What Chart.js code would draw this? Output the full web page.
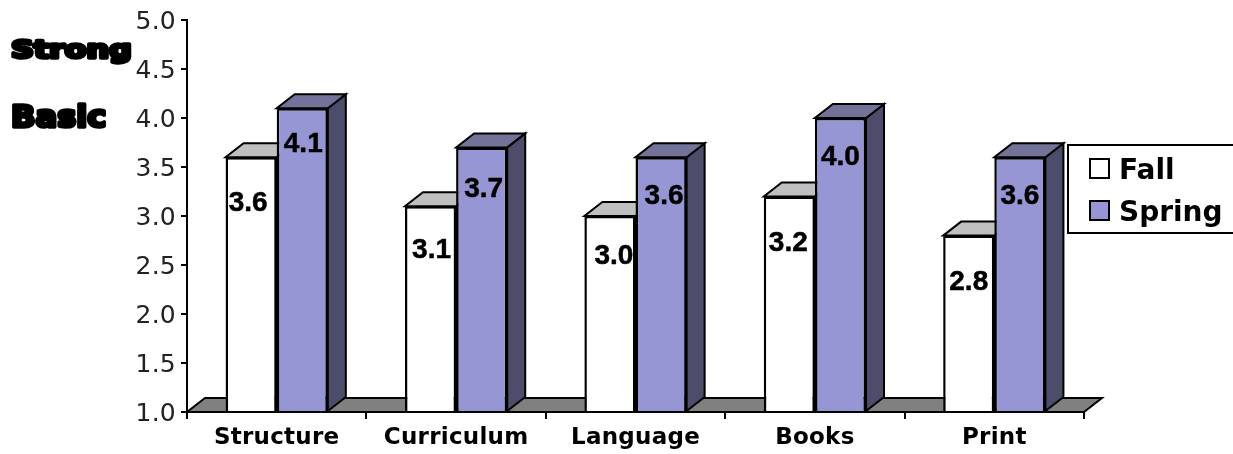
<!DOCTYPE html>
<html>
<head>
<meta charset="utf-8">
<title>Fall and Spring ratings</title>
<script src="https://cdn.jsdelivr.net/npm/chart.js@4"></script>
<style>
  html, body { margin: 0; padding: 0; background: #fff; overflow: hidden; }
  canvas { display: block; }
</style>
</head>
<body>
<canvas id="ratingChart" width="1233" height="454"></canvas>
<script>
// Chart data
const categories = ['Structure', 'Curriculum', 'Language', 'Books', 'Print'];
const fallValues = [3.6, 3.1, 3.0, 3.2, 2.8];
const springValues = [4.1, 3.7, 3.6, 4.0, 3.6];
const levelLabels = ['Strong', 'Basic'];

// Where each value label sits relative to the top centre of its bar [dx, dy]
const fallLabelNudge = [[-3, 46], [1, 44], [4, 40], [-1, 47], [0, 47]];
const springLabelNudge = [[1, 36], [2, 42], [3, 39], [0, 39], [0, 39]];

const DEPTH_X = 18;
const DEPTH_Y = 14;

function poly(ctx, points, fill) {
  ctx.beginPath();
  points.forEach((p, i) => (i ? ctx.lineTo(p[0], p[1]) : ctx.moveTo(p[0], p[1])));
  ctx.closePath();
  ctx.fillStyle = fill;
  ctx.fill();
  ctx.stroke();
}

// Squeezed heavy text for the labels left of the axis
function heavyText(ctx, text, size, stretch, x, y) {
  ctx.save();
  ctx.translate(x, y);
  ctx.scale(stretch, 1);
  ctx.font = `bold ${size}px "DejaVu Sans", sans-serif`;
  ctx.lineWidth = 3.5;
  ctx.lineJoin = 'round';
  ctx.strokeText(text, 0, 0);
  ctx.fillText(text, 0, 0);
  ctx.restore();
}

// 3D look: floor plus the top and side faces of every bar
const depthPlugin = {
  id: 'depth',
  beforeDraw(chart) {
    chart.ctx.letterSpacing = '0.25px';
  },
  beforeDatasetsDraw(chart) {
    const { ctx, chartArea: a } = chart;
    ctx.save();
    ctx.letterSpacing = '0px';
    ctx.strokeStyle = '#000';
    ctx.lineWidth = 2;
    ctx.lineJoin = 'miter';
    poly(ctx, [
      [a.left, a.bottom], [a.right, a.bottom],
      [a.right + DEPTH_X, a.bottom - DEPTH_Y], [a.left + DEPTH_X, a.bottom - DEPTH_Y]
    ], '#808080');
    chart.data.datasets.forEach((ds, d) => {
      chart.getDatasetMeta(d).data.forEach(bar => {
        const l = bar.x - bar.width / 2;
        const r = bar.x + bar.width / 2;
        poly(ctx, [[r, bar.y], [r + DEPTH_X, bar.y - DEPTH_Y], [r + DEPTH_X, bar.base - DEPTH_Y], [r, bar.base]], ds.sideColor);
        poly(ctx, [[l, bar.y], [r, bar.y], [r + DEPTH_X, bar.y - DEPTH_Y], [l + DEPTH_X, bar.y - DEPTH_Y]], ds.topColor);
      });
    });
    ctx.restore();
  },
  afterDatasetsDraw(chart) {
    const { ctx } = chart;
    ctx.save();
    ctx.letterSpacing = '0px';
    ctx.font = 'bold 28px "Liberation Sans", Arial, sans-serif';
    ctx.fillStyle = '#000';
    ctx.strokeStyle = '#000';
    ctx.lineWidth = 0.5;
    ctx.textAlign = 'center';
    ctx.textBaseline = 'middle';
    chart.data.datasets.forEach((ds, d) => {
      chart.getDatasetMeta(d).data.forEach((bar, i) => {
        const [dx, dy] = ds.labelNudge[i];
        const text = ds.data[i].toFixed(1);
        ctx.strokeText(text, bar.x + dx, bar.y + dy);
        ctx.fillText(text, bar.x + dx, bar.y + dy);
      });
    });
    ctx.restore();
  },
  afterDraw(chart) {
    const { ctx } = chart;
    ctx.save();
    ctx.letterSpacing = '0px';
    ctx.fillStyle = '#000';
    ctx.strokeStyle = '#000';
    ctx.textAlign = 'left';
    ctx.textBaseline = 'alphabetic';
    heavyText(ctx, levelLabels[0], 25, 1.27, 11, 58);
    heavyText(ctx, levelLabels[1], 30, 1.07, 11, 127);

    // legend box runs off the right edge
    ctx.lineWidth = 2;
    ctx.fillStyle = '#fff';
    ctx.fillRect(1068, 145, 170, 88);
    ctx.strokeRect(1068, 145, 170, 88);
    ctx.font = 'bold 28px "DejaVu Sans", sans-serif';
    chart.data.datasets.forEach((ds, d) => {
      const top = 159 + d * 42;
      ctx.fillStyle = ds.backgroundColor;
      ctx.fillRect(1090, top, 19, 19);
      ctx.strokeRect(1090, top, 19, 19);
      ctx.fillStyle = '#000';
      ctx.fillText(ds.label, 1119, top + 20);
    });
    ctx.restore();
  }
};

const chart = new Chart(document.getElementById('ratingChart').getContext('2d'), {
  type: 'bar',
  plugins: [depthPlugin],
  data: {
    labels: categories,
    datasets: [{
      label: 'Fall',
      data: fallValues,
      base: 1,
      backgroundColor: '#ffffff',
      topColor: '#c0c0c0',
      sideColor: '#808080',
      labelNudge: fallLabelNudge,
      borderColor: '#000',
      borderWidth: 2.5
    }, {
      label: 'Spring',
      data: springValues,
      base: 1,
      backgroundColor: '#9696d4',
      topColor: '#737399',
      sideColor: '#4d4d6b',
      labelNudge: springLabelNudge,
      borderColor: '#000',
      borderWidth: 2.5
    }]
  },
  options: {
    responsive: false,
    animation: false,
    layout: { padding: { top: 19, right: 149, left: 0, bottom: 0 } },
    datasets: { bar: { barPercentage: 1, categoryPercentage: 0.57 } },
    plugins: { legend: { display: false }, tooltip: { enabled: false } },
    scales: {
      x: {
        afterFit: (scale) => { scale.height = 42; },
        border: { color: '#000', width: 2 },
        grid: { drawOnChartArea: false, color: '#000', lineWidth: 2, tickLength: 7 },
        ticks: {
          color: '#000',
          padding: 5,
          maxRotation: 0,
          font: { family: '"DejaVu Sans", sans-serif', size: 23, weight: 'bold' }
        }
      },
      y: {
        min: 1,
        max: 5,
        afterFit: (scale) => { scale.width = 187; },
        border: { color: '#000', width: 2 },
        grid: { drawOnChartArea: false, color: '#000', lineWidth: 2, tickLength: 6 },
        ticks: {
          stepSize: 0.5,
          color: '#222',
          padding: 5,
          labelOffset: 2,
          callback: value => value.toFixed(1),
          font: { family: '"DejaVu Sans", sans-serif', size: 25 }
        }
      }
    }
  }
});
</script>
</body>
</html>
